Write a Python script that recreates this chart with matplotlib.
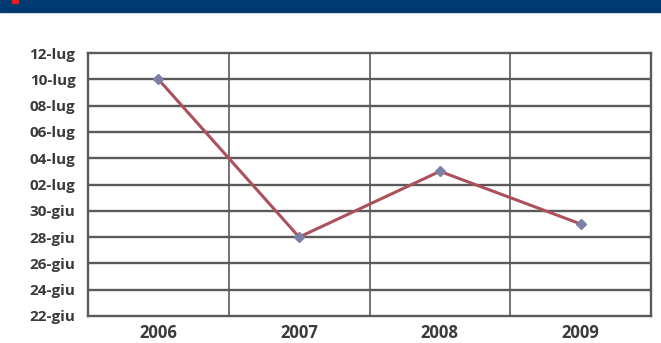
import matplotlib
matplotlib.use("Agg")
import matplotlib.pyplot as plt
from matplotlib.patches import Rectangle
import pandas as pd
import matplotlib.dates as mdates

years = ["2006", "2007", "2008", "2009"]
dates = ["2000-07-10", "2000-06-28", "2000-07-03", "2000-06-29"]
tick_dates = ["2000-06-22", "2000-06-24", "2000-06-26", "2000-06-28", "2000-06-30",
              "2000-07-02", "2000-07-04", "2000-07-06", "2000-07-08", "2000-07-10",
              "2000-07-12"]
tick_labels = ["22-giu", "24-giu", "26-giu", "28-giu", "30-giu",
               "02-lug", "04-lug", "06-lug", "08-lug", "10-lug", "12-lug"]

plt.rcParams["font.family"] = ["Open Sans", "DejaVu Sans"]

W, H = 661, 343
fig = plt.figure(figsize=(W / 100, H / 100), dpi=100)
ax = fig.add_axes([88 / W, 1 - 316 / H, (651 - 88) / W, (316 - 53) / H])

y = mdates.date2num(pd.to_datetime(dates))
yt = mdates.date2num(pd.to_datetime(tick_dates))
x = range(len(years))

grid_c = "#5a5a5a"
for v in yt[1:-1]:
    ax.axhline(v, color=grid_c, lw=1.7, zorder=1)
for v in [0.5, 1.5, 2.5]:
    ax.axvline(v, color=grid_c, lw=1.2, zorder=1)

ax.plot(x, y, color="#ac505c", lw=2.2, zorder=3)
ax.plot(x, y, ls="none", marker="D", ms=5, color="#7a80a6", zorder=4)

ax.set_xlim(-0.5, 3.5)
ax.set_ylim(yt[0], yt[-1])
ax.set_yticks(yt)
ax.set_yticklabels(tick_labels)
ax.set_xticks(list(x))
ax.set_xticklabels(years)
ax.tick_params(axis="y", length=0, labelsize=11, colors="#3a3a3a", pad=9)
ax.tick_params(axis="x", length=0, labelsize=12, colors="#3a3a3a", pad=6)
for lab in ax.get_xticklabels() + ax.get_yticklabels():
    lab.set_fontweight("bold")
for s in ax.spines.values():
    s.set_color(grid_c)
    s.set_linewidth(1.7)

# header banner
fig.patches.append(Rectangle((0, 1 - 12 / H), 1, 12 / H, transform=fig.transFigure,
                             color="#003a70", zorder=0))
fig.patches.append(Rectangle((12 / W, 1 - 3 / H), 6 / W, 3 / H, transform=fig.transFigure,
                             color="#e02020", zorder=1))

fig.savefig("out.png", dpi=100)
